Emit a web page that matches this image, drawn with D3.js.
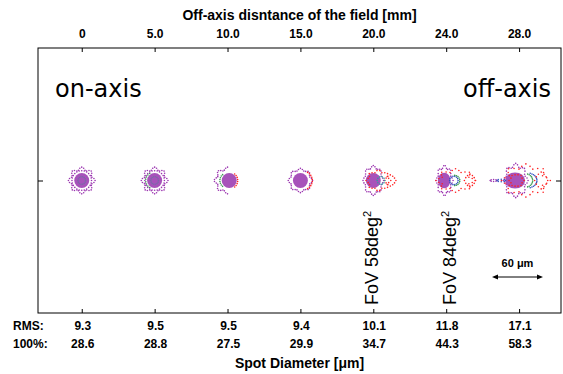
<!DOCTYPE html>
<html><head><meta charset="utf-8">
<script src="https://cdn.jsdelivr.net/npm/d3@7"></script>
<style>body{margin:0;background:#fff}svg{display:block}</style>
</head><body>
<svg id="c" width="563" height="374"></svg>
<script>
// ---- data ----
const fieldLabels = ["0","5.0","10.0","15.0","20.0","24.0","28.0"];
const rmsValues = [9.3,9.5,9.5,9.4,10.1,11.8,17.1];
const fullValues = [28.6,28.8,27.5,29.9,34.7,44.3,58.3];
const fovLabels = [{field:4, text:"FoV 58deg", sup:"2"},{field:5, text:"FoV 84deg", sup:"2"}];
const scaleBarUm = 60;
// spot components, in μm: core [dx, rx, ry]; rings [colour, dx, rx, ry, nDots, fromDeg, toDeg, wobble]
const spotCores = [[0,8.8,8.8],[0,8.8,8.8],[2,8.8,8.8],[0,8.8,8.8],[0,8.8,8.8],[-2.4,7.5,9],[-4.7,11.8,9.4]];
const spotRings = [
  [["#9b35b0",0,14,14,40,0,360,0.12],["#9b35b0",0,11.5,11.5,24,0,360,0],["#7a6aa8",0,4.5,4.5,14,0,360,0]],
  [["#9b35b0",0,14,14,40,0,360,0.12],["#9b35b0",0,11.5,11.5,24,0,360,0],["#3a9a50",-1,9.5,9.5,8,120,240,0],["#7a6aa8",0,4.5,4.5,14,0,360,0]],
  [["#9b35b0",0,14,14,22,90,270,0.12],["#ff2020",2,10,10,8,-50,50,0],["#3a9a50",0,9,9,8,130,230,0]],
  [["#9b35b0",0,13,13,36,0,360,0.1],["#ff2020",3,11,11,10,-60,60,0]],
  [["#9b35b0",0,11,16,36,0,360,0.1],["#ff2020",6,13,11,26,0,360,0.12],["#ff2020",20,6,6,12,0,360,0.1],["#2aa0a0",9,4.5,4.5,10,0,360,0]],
  [["#9b35b0",-2,9,16,34,0,360,0.12],["#3050c0",9,5,5,14,0,360,0],["#3a9a50",10,6,6,10,-90,90,0],["#ff2020",11,20,12,32,0,360,0.15],["#ff2020",28,6,7,12,0,360,0.1]],
  [["#9b35b0",-30,4,1.2,8,0,360,0],["#3050c0",-21,5,1.5,8,0,360,0],["#ff2020",-3,8,7,14,0,360,0.1],["#9b35b0",-4,13,18,40,0,360,0.12],["#3a9a50",7,9,8,12,-70,70,0],["#3050c0",9,12,9,14,-70,70,0],["#ff2020",8,25,17,32,0,360,0.15],["#ff2020",26,7,9,12,0,360,0.1]]
];

// ---- layout ----
const svg = d3.select("#c");
const L=38, R=561, T=48, B=313;
const x = d3.scaleLinear().domain([-0.6,6.575]).range([L,R]);
const y = d3.scaleLinear().domain([-1,1]).range([B,T]);
const um = d3.scaleLinear().domain([0,60]).range([0,51]);
const idx = d3.range(fieldLabels.length);
const bold = "'Liberation Sans', Arial, sans-serif";

svg.append("rect").attr("x",L).attr("y",T).attr("width",R-L).attr("height",B-T)
  .attr("fill","none").attr("stroke","#000").attr("stroke-width",1);

// ticks
const topAx = d3.axisTop(x).tickValues(idx).tickSize(-4).tickFormat(d=>fieldLabels[d]).tickPadding(10);
const gt = svg.append("g").attr("transform",`translate(0,${T})`).call(topAx);
gt.select(".domain").remove();
gt.selectAll("text").attr("font-family",bold).attr("font-weight","bold").attr("font-size",12).attr("fill","#000");
const botAx = d3.axisBottom(x).tickValues(idx).tickSize(-4).tickFormat("");
const gb = svg.append("g").attr("transform",`translate(0,${B})`).call(botAx);
gb.select(".domain").remove();
const gl = svg.append("g").attr("transform",`translate(${L},0)`).call(d3.axisLeft(y).tickValues([0]).tickSize(-5).tickFormat(""));
gl.select(".domain").remove();
const gr = svg.append("g").attr("transform",`translate(${R},0)`).call(d3.axisRight(y).tickValues([0]).tickSize(-5).tickFormat(""));
gr.select(".domain").remove();
svg.selectAll(".tick line").attr("stroke","#000");

// titles
svg.append("text").attr("x",(L+R)/2).attr("y",20).attr("text-anchor","middle")
  .attr("font-family",bold).attr("font-weight","bold").attr("font-size",14).text("Off-axis disntance of the field [mm]");
svg.append("text").attr("x",(L+R)/2).attr("y",368).attr("text-anchor","middle")
  .attr("font-family",bold).attr("font-weight","bold").attr("font-size",14).text("Spot Diameter [μm]");

// rows
svg.append("text").attr("x",13).attr("y",330).attr("font-family",bold).attr("font-weight","bold").attr("font-size",12).text("RMS:");
svg.append("text").attr("x",13).attr("y",348).attr("font-family",bold).attr("font-weight","bold").attr("font-size",12).text("100%:");
svg.selectAll(".rms").data(rmsValues).join("text").attr("class","rms")
  .attr("x",(d,i)=>x(i)+1).attr("y",330).attr("text-anchor","middle")
  .attr("font-family",bold).attr("font-weight","bold").attr("font-size",12).text(d=>d.toFixed(1));
svg.selectAll(".full").data(fullValues).join("text").attr("class","full")
  .attr("x",(d,i)=>x(i)+1).attr("y",348).attr("text-anchor","middle")
  .attr("font-family",bold).attr("font-weight","bold").attr("font-size",12).text(d=>d.toFixed(1));

// on/off axis
svg.append("text").attr("x",55).attr("y",97).attr("font-family","'DejaVu Sans', sans-serif").attr("font-size",24).text("on-axis");
svg.append("text").attr("x",551).attr("y",97).attr("text-anchor","end").attr("font-family","'DejaVu Sans', sans-serif").attr("font-size",24).text("off-axis");

// spots
const yc = y(0);
idx.forEach(i=>{
  const g = svg.append("g").attr("transform",`translate(${x(i)},${yc})`);
  const c = spotCores[i];
  g.append("ellipse").attr("cx",um(c[0])).attr("cy",0).attr("rx",um(c[1])).attr("ry",um(c[2]))
    .attr("fill","#a043b4").attr("opacity",0.92);
  spotRings[i].forEach(r=>{
    const [col,dx,rx,ry,n,a0,a1,w] = r;
    const full = (a1-a0)>=360;
    const steps = full ? d3.range(n).map(k=>a0+(a1-a0)*k/n) : d3.range(n).map(k=>a0+(a1-a0)*k/(n-1));
    g.selectAll(null).data(steps).join("circle")
      .attr("cx",a=>{const t=a*Math.PI/180; return um(dx+rx*(1+w*Math.cos(8*t))*Math.cos(t));})
      .attr("cy",a=>{const t=a*Math.PI/180; return -um(ry*(1+w*Math.cos(8*t))*Math.sin(t));})
      .attr("r",0.8).attr("fill",col);
  });
});

// FoV labels
fovLabels.forEach((f,k)=>{
  const bx = k===0 ? x(f.field)+5 : x(f.field)+10;
  const t = svg.append("text").attr("transform",`translate(${bx},305) rotate(-90)`)
    .attr("font-family","'Liberation Sans', Arial, sans-serif").attr("font-size",18).text(f.text);
  t.append("tspan").attr("font-size",11).attr("dy",-7).text(f.sup);
});

// scale bar
const sx0 = 492, sx1 = sx0 + um(scaleBarUm), sy = 277;
svg.append("text").attr("x",(sx0+sx1)/2).attr("y",267).attr("text-anchor","middle")
  .attr("font-family",bold).attr("font-weight","bold").attr("font-size",11).text(scaleBarUm+" μm");
svg.append("line").attr("x1",sx0+3).attr("x2",sx1-3).attr("y1",sy).attr("y2",sy).attr("stroke","#000").attr("stroke-width",1);
svg.append("path").attr("d",`M${sx0},${sy}l6,-2.5v5z M${sx1},${sy}l-6,-2.5v5z`).attr("fill","#000");
</script>
</body></html>
